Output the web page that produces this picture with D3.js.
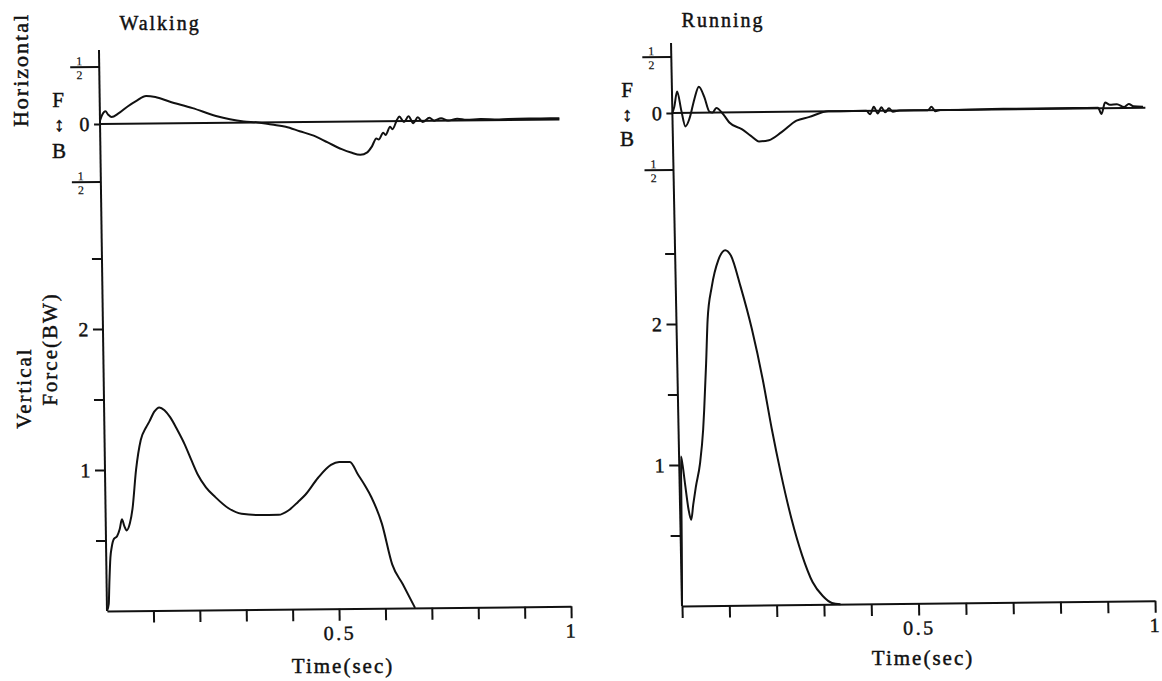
<!DOCTYPE html>
<html>
<head>
<meta charset="utf-8">
<script src="https://cdn.jsdelivr.net/npm/d3@7"></script>
<style>
body { margin: 0; background: #fff; }
svg text { font-family: "Liberation Serif", "DejaVu Serif", serif; fill: #111; stroke: #111; stroke-width: 0.45; }
.axis path, .axis line, .frame { stroke: #111; stroke-width: 2; fill: none; }
.axis text { font-size: 20px; letter-spacing: 2.5px; }
.curve { fill: none; stroke: #111; stroke-width: 2; stroke-linejoin: round; }
.lab { font-size: 21px; letter-spacing: 2px; }
</style>
</head>
<body>
<svg width="1162" height="681"></svg>
<script>

// walking, horizontal (fore/aft) force, BW
var walkHorizT = [0, 0.005, 0.012, 0.018, 0.025, 0.04, 0.06, 0.08, 0.10, 0.12, 0.15, 0.20, 0.25, 0.28, 0.31, 0.34, 0.37, 0.40, 0.43, 0.46, 0.49, 0.52, 0.54, 0.56, 0.575, 0.585, 0.595, 0.60, 0.61, 0.615, 0.625, 0.63, 0.64, 0.645, 0.655, 0.665, 0.675, 0.685, 0.695, 0.71, 0.72, 0.735, 0.75, 0.77, 0.79, 0.82, 0.86, 0.90, 0.95, 0.99];
var walkHorizV = [0.03, 0.08, 0.11, 0.08, 0.06, 0.09, 0.15, 0.20, 0.24, 0.23, 0.19, 0.13, 0.06, 0.03, 0.01, 0.0, -0.02, -0.04, -0.08, -0.12, -0.18, -0.24, -0.27, -0.29, -0.27, -0.22, -0.15, -0.16, -0.10, -0.12, -0.05, -0.07, 0.01, 0.04, -0.01, 0.04, -0.02, 0.03, -0.01, 0.025, 0.0, 0.02, 0.0, 0.015, 0.005, 0.01, 0.005, 0.01, 0.01, 0.01];

// walking, vertical force, BW
var walkVertT = [0, 0.004, 0.006, 0.009, 0.012, 0.017, 0.024, 0.030, 0.035, 0.040, 0.045, 0.052, 0.058, 0.067, 0.078, 0.090, 0.097, 0.108, 0.119, 0.130, 0.142, 0.157, 0.172, 0.187, 0.200, 0.217, 0.237, 0.265, 0.293, 0.33, 0.373, 0.394, 0.415, 0.431, 0.459, 0.487, 0.505, 0.528, 0.545, 0.56, 0.573, 0.595, 0.616, 0.638, 0.664];
var walkVertV = [0, 0.05, 0.20, 0.38, 0.45, 0.51, 0.53, 0.58, 0.65, 0.60, 0.57, 0.62, 0.72, 1.00, 1.21, 1.30, 1.34, 1.41, 1.44, 1.42, 1.37, 1.28, 1.18, 1.06, 0.96, 0.87, 0.80, 0.72, 0.68, 0.67, 0.67, 0.70, 0.76, 0.81, 0.93, 1.02, 1.04, 1.04, 0.95, 0.87, 0.79, 0.60, 0.31, 0.17, 0.0];

// running, horizontal force, BW
var runHorizT = [0, 0.004, 0.011, 0.019, 0.027, 0.036, 0.047, 0.057, 0.068, 0.078, 0.085, 0.093, 0.108, 0.12, 0.146, 0.165, 0.182, 0.203, 0.23, 0.262, 0.288, 0.33, 0.38, 0.41, 0.418, 0.426, 0.434, 0.442, 0.45, 0.458, 0.466, 0.48, 0.51, 0.54, 0.548, 0.556, 0.566, 0.58, 0.70, 0.85, 0.90, 0.907, 0.915, 0.925, 0.94, 0.955, 0.965, 0.975, 0.995];
var runHorizV = [0.0, 0.05, 0.19, 0.02, -0.12, -0.05, 0.12, 0.23, 0.14, 0.01, 0.0, 0.04, -0.02, -0.09, -0.15, -0.21, -0.26, -0.25, -0.18, -0.08, -0.05, 0.0, 0.0, 0.0, -0.03, 0.035, -0.025, 0.03, -0.015, 0.02, -0.01, 0.0, 0.0, 0.0, 0.03, -0.01, 0.0, 0.0, 0.005, 0.005, 0.005, -0.05, 0.05, 0.03, 0.035, 0.01, 0.035, 0.015, 0.01];

// running, vertical force, BW
var runVertT = [0, 0.001, 0.002, 0.003, 0.004, 0.007, 0.012, 0.018, 0.023, 0.028, 0.034, 0.044, 0.052, 0.055, 0.061, 0.066, 0.076, 0.091, 0.106, 0.118, 0.137, 0.159, 0.18, 0.197, 0.214, 0.235, 0.256, 0.277, 0.298, 0.317, 0.335];
var runVertV = [0, 0.20, 0.42, 0.75, 1.06, 1.0, 0.85, 0.68, 0.61, 0.72, 0.84, 1.01, 1.25, 1.39, 1.72, 2.03, 2.26, 2.45, 2.52, 2.48, 2.26, 1.96, 1.60, 1.25, 0.94, 0.61, 0.35, 0.16, 0.06, 0.01, 0.0];

var xTicksWalk = [0.1, 0.2, 0.3, 0.4, 0.5, 0.6, 0.7, 0.8, 0.9, 1];
var xTicksRun = [0, 0.1, 0.2, 0.3, 0.4, 0.5, 0.6, 0.7, 0.8, 0.9, 1];
var xTickLabels = {"0.5": "0.5", "1": "1"};
var vertTicks = [0.5, 1, 1.5, 2, 2.5];
var vertTickLabels = {"1": "1", "2": "2"};
var horizTicks = [-0.5, 0, 0.5];

var svg = d3.select("svg");

function zip(t, v) {
  return t.map(function(d, i) { return [d, v[i]]; });
}

function panel(o) {
  // scanned page is slightly skewed, so the whole panel is sheared a little
  var g = svg.append("g")
      .attr("transform", "translate(" + o.x + "," + o.y + ") matrix(1," + o.skewY + "," + o.skewX + ",1,0,0)");

  var x = d3.scaleLinear().domain([0, 1]).range([0, o.width]),
      yV = d3.scaleLinear().domain([0, 1]).range([0, -o.unit]),
      yH = d3.scaleLinear().domain([0, 1]).range([-o.zero, -o.zero - o.hunit]);

  g.append("g")
      .attr("class", "axis")
      .call(d3.axisBottom(x)
        .tickValues(o.xTicks)
        .tickSize(12)
        .tickSizeOuter(0)
        .tickPadding(5)
        .tickFormat(function(d) { return xTickLabels[String(d)] || ""; }));

  g.append("line")
      .attr("class", "frame")
      .attr("x1", 0).attr("y1", 0)
      .attr("x2", 0).attr("y2", -o.top);

  var va = g.append("g")
      .attr("class", "axis")
      .call(d3.axisLeft(yV)
        .tickValues(vertTicks)
        .tickSize(10)
        .tickPadding(2)
        .tickFormat(function(d) { return vertTickLabels[String(d)] || ""; }));
  va.select(".domain").remove();

  var ha = g.append("g")
      .attr("class", "axis")
      .call(d3.axisLeft(yH)
        .tickValues(horizTicks)
        .tickSize(6)
        .tickPadding(2)
        .tickFormat(function(d) { return d === 0 ? "0" : ""; }));
  ha.select(".domain").remove();
  ha.selectAll(".tick").filter(function(d) { return d !== 0; })
      .each(function() {
        var t = d3.select(this);
        t.select("line").attr("x2", -29);
        t.append("text").attr("x", -20).attr("y", -2).attr("text-anchor", "middle")
            .style("font-size", "12px").style("letter-spacing", "0").style("stroke-width", "0.2").text("1");
        t.append("text").attr("x", -20).attr("y", 12).attr("text-anchor", "middle")
            .style("font-size", "12px").style("letter-spacing", "0").style("stroke-width", "0.2").text("2");
      });

  g.append("line")
      .attr("class", "frame")
      .attr("x1", 0).attr("y1", yH(0))
      .attr("x2", x(o.zeroEnd)).attr("y2", yH(0));

  var lineV = d3.line()
      .x(function(d) { return x(d[0]); })
      .y(function(d) { return yV(d[1]); })
      .curve(d3.curveMonotoneX);
  var lineH = d3.line()
      .x(function(d) { return x(d[0]); })
      .y(function(d) { return yH(d[1]); })
      .curve(d3.curveMonotoneX);

  g.append("path").attr("class", "curve").attr("d", lineH(o.horiz));
  g.append("path").attr("class", "curve").attr("d", lineV(o.vert));
}

panel({x: 107, y: 611, width: 464, unit: 141, zero: 487, hunit: 115, top: 561,
       skewX: 0.0143, skewY: -0.01, zeroEnd: 0.99, xTicks: xTicksWalk,
       horiz: zip(walkHorizT, walkHorizV), vert: zip(walkVertT, walkVertV)});

panel({x: 682, y: 606, width: 473, unit: 141, zero: 493, hunit: 113, top: 563,
       skewX: 0.0195, skewY: -0.011, zeroEnd: 1.0, xTicks: xTicksRun,
       horiz: zip(runHorizT, runHorizV), vert: zip(runVertT, runVertV)});

// titles and axis names
function label(txt, x, y, rot, size) {
  svg.append("text")
      .attr("class", "lab")
      .attr("text-anchor", "middle")
      .attr("transform", "translate(" + x + "," + y + ")" + (rot ? " rotate(-90)" : ""))
      .style("font-size", (size || 21) + "px")
      .text(txt);
}

label("Walking", 160, 30, false, 20);
label("Running", 723, 27, false, 20);
label("Horizontal", 28, 70, true, 22);
label("Vertical", 31, 388, true);
label("Force(BW)", 57, 349, true);
label("Time(sec)", 343, 673, false);
label("Time(sec)", 923, 665, false);

label("F", 59, 107, false, 21);
label("↕", 60, 131, false, 20);
label("B", 60, 158, false, 21);
label("F", 628, 97, false, 21);
label("↕", 628, 121, false, 20);
label("B", 628, 146, false, 21);

</script>
</body>
</html>
